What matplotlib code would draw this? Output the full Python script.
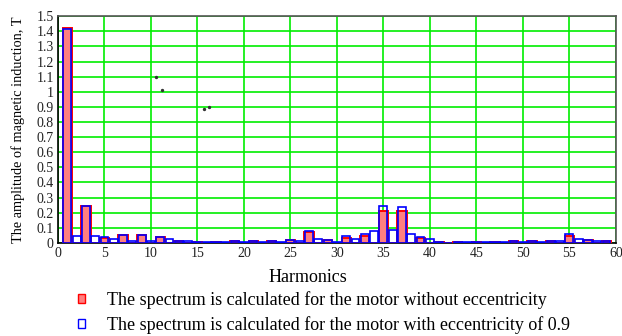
import numpy as np
import matplotlib.pyplot as plt
from matplotlib.patches import Rectangle

# harmonic numbers and amplitudes (T)
harmonics = list(range(1, 60))
amp_no_ecc = [1.42, 0, 0.243, 0, 0.033, 0, 0.05, 0, 0.05, 0,
              0.037, 0, 0.013, 0, 0.007, 0, 0.007, 0, 0.013, 0,
              0.013, 0, 0.013, 0, 0.022, 0, 0.072, 0, 0.022, 0,
              0.033, 0, 0.046, 0, 0.214, 0, 0.21, 0, 0.033, 0,
              0.007, 0, 0.007, 0, 0.007, 0, 0.007, 0, 0.013, 0,
              0.013, 0, 0.013, 0, 0.049, 0, 0.022, 0, 0.013]
amp_ecc = [1.415, 0.049, 0.243, 0.049, 0.037, 0.027, 0.05, 0.015, 0.05, 0.015,
           0.037, 0.025, 0.013, 0.015, 0.007, 0.007, 0.007, 0.007, 0.013, 0.007,
           0.013, 0.007, 0.013, 0.007, 0.022, 0.013, 0.08, 0.024, 0.022, 0.009,
           0.046, 0.029, 0.06, 0.08, 0.243, 0.086, 0.236, 0.057, 0.04, 0.026,
           0.009, 0.002, 0.007, 0.007, 0.007, 0.007, 0.007, 0.007, 0.013, 0.007,
           0.013, 0.007, 0.013, 0.013, 0.057, 0.024, 0.022, 0.013, 0.013]
# stray dots seen on the plot
dots_x = [10.5, 11.2, 15.7, 16.2]
dots_y = [1.095, 1.013, 0.884, 0.90]

label_red = 'The spectrum is calculated for the motor without eccentricity'
label_blue = 'The spectrum is calculated for the motor with eccentricity of 0.9'

plt.rcParams['font.family'] = ['Liberation Serif', 'DejaVu Serif']

fig = plt.figure(figsize=(6.22, 3.36), dpi=100)
ax = fig.add_axes([0.0932, 0.2768, 0.8968, 0.6752])

ax.bar(harmonics, amp_no_ecc, width=1.0, color='#ff7f7f', edgecolor='#ff0000',
       linewidth=1.4, zorder=3)
ax.bar(harmonics, amp_ecc, width=0.85, color='none', edgecolor='#0000ff',
       linewidth=1.2, zorder=4)
ax.scatter(dots_x, dots_y, s=2, color='#333333', zorder=5)

ax.set_xlim(0, 60)
ax.set_ylim(0, 1.5)
ax.set_xticks(np.arange(0, 61, 5))
ax.set_yticks(np.arange(0, 1.51, 0.1))
ax.set_yticklabels(['0', '0.1', '0.2', '0.3', '0.4', '0.5', '0.6', '0.7', '0.8',
                    '0.9', '1', '1.1', '1.2', '1.3', '1.4', '1.5'])
ax.grid(True, color='#00ee00', linewidth=1.2, zorder=0)
ax.set_axisbelow(True)
ax.tick_params(length=0, labelsize=10, colors='#222222', pad=3)

ax.spines['left'].set_color('black')
ax.spines['bottom'].set_color('black')
ax.spines['top'].set_color('#555555')
ax.spines['right'].set_color('#555555')
for s in ax.spines.values():
    s.set_linewidth(1.2)

ax.set_xlabel('Harmonics', fontsize=13)
ax.xaxis.set_label_coords(0.448, -0.115)
ax.set_ylabel('The amplitude of magnetic induction, T', fontsize=10.3, labelpad=8)

h_red = Rectangle((0, 0), 1, 1, facecolor='#ff7f7f', edgecolor='#ff0000', linewidth=1.0)
h_blue = Rectangle((0, 0), 1, 1, facecolor='none', edgecolor='#0000ff', linewidth=1.0)
fig.legend([h_red, h_blue], [label_red, label_blue], loc='upper left',
           bbox_to_anchor=(0.1254, 0.134), frameon=False, fontsize=13,
           handlelength=0.4, handleheight=0.4, handletextpad=1.2, labelspacing=0.38,
           borderpad=0, borderaxespad=0)

plt.savefig('out.png', dpi=100)
